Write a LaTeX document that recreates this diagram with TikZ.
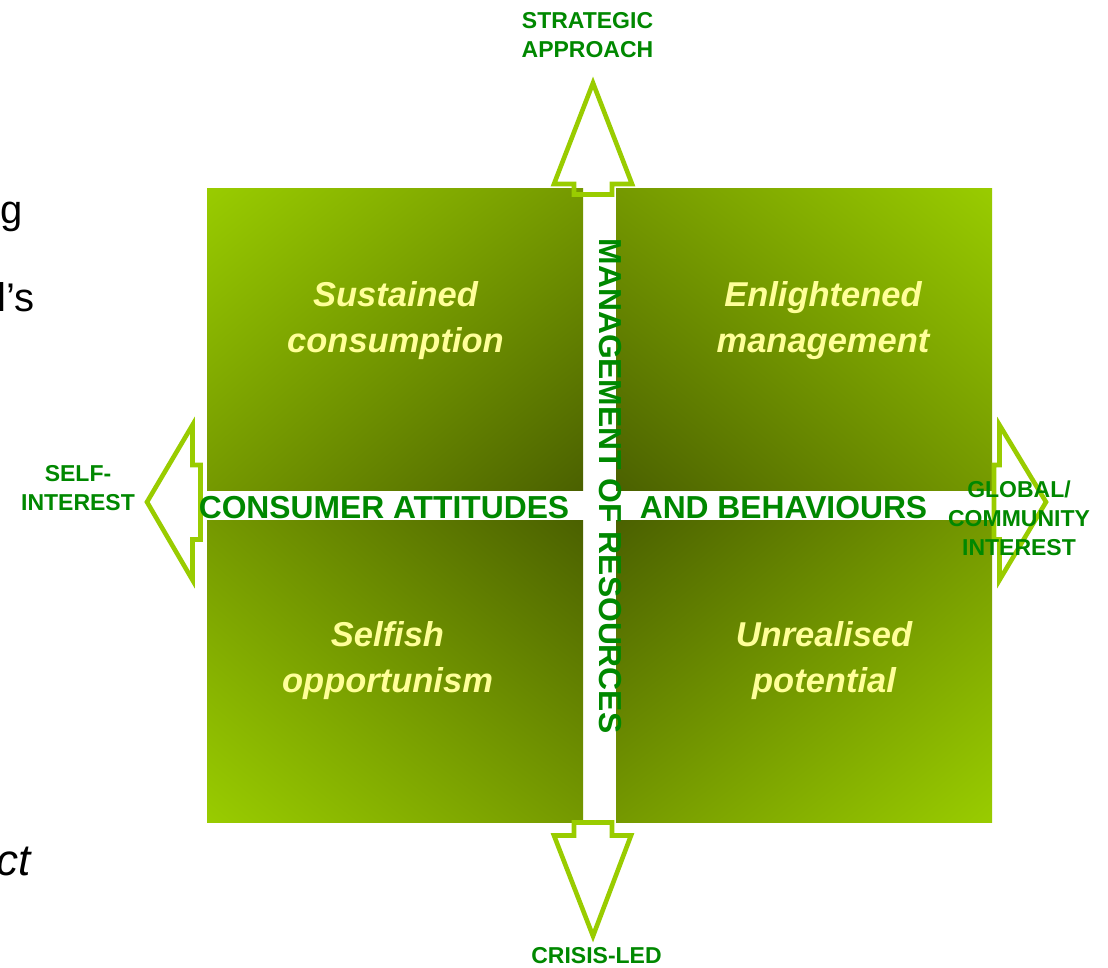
\documentclass[tikz,border=0pt]{standalone}
\usepackage{fontspec}
\usetikzlibrary{shadings}
\setmainfont{Liberation Sans}
\definecolor{arrowlime}{HTML}{99CC00}
\definecolor{qlight}{HTML}{99CC00}
\definecolor{qmid}{HTML}{759900}
\definecolor{qdark}{HTML}{4B6100}
\definecolor{lblgreen}{HTML}{008800}
\definecolor{qtext}{HTML}{FFFF99}
\newcommand{\mystack}[1]{\begin{tabular}[b]{@{}c@{}}#1\end{tabular}}
\begin{document}
\begin{tikzpicture}[x=1pt,y=-1pt,
  lbl/.style={font=\fontsize{23}{29}\selectfont\bfseries, text=lblgreen, inner sep=0pt, anchor=base},
  big/.style={font=\fontsize{31.8}{36}\selectfont\bfseries, text=lblgreen, inner sep=0pt, anchor=base},
  qtxt/.style={font=\fontsize{34.5}{46}\selectfont\bfseries\itshape, text=qtext, inner sep=0pt, anchor=base},
  frag/.style={font=\fontsize{40}{48}\selectfont, text=black, inner sep=0pt, anchor=base west},
  quad/.style={rectangle, inner sep=0pt, minimum width=376pt, minimum height=302pt, draw=none},
  arr/.style={draw=arrowlime, line width=4.6pt, line join=miter, miter limit=10}]
\fill[white] (0,0) rectangle (1108,967);
\useasboundingbox (0,0) rectangle (1108,967);
% quadrants
\node[quad, shade, upper left=qlight, upper right=qmid, lower left=qmid, lower right=qdark] (q1) at (395,339) {};
\node[quad, shade, upper left=qmid, upper right=qlight, lower left=qdark, lower right=qmid] (q2) at (804,339) {};
\node[quad, shade, upper left=qmid, upper right=qdark, lower left=qlight, lower right=qmid] (q3) at (395,671) {};
\node[quad, shade, upper left=qdark, upper right=qmid, lower left=qmid, lower right=qlight] (q4) at (804,671) {};
% arrows
\draw[arr] (574,194.5) -- (574,184) -- (554,184) -- (593,83) -- (632,184) -- (612,184) -- (612,194.5) -- cycle;
\draw[arr] (574,822.5) -- (612,822.5) -- (612,835.5) -- (631,835.5) -- (593,936) -- (554,835.5) -- (574,835.5) -- cycle;
\draw[arr] (200.5,465) -- (192.5,465) -- (192.5,425) -- (147,502) -- (192.5,580) -- (192.5,539.5) -- (200.5,539.5) -- cycle;
\draw[arr] (994,465) -- (999.5,465) -- (999.5,425) -- (1046,502) -- (999.5,580) -- (999.5,539.5) -- (994,539.5) -- cycle;
% axis labels
\node[lbl] (strat) at (587.5,57) {\mystack{STRATEGIC\\APPROACH}};
\node[lbl] (self) at (78,510) {\mystack{SELF-\\INTEREST}};
\node[lbl] (glob) at (1019,555) {\mystack{GLOBAL/\\COMMUNITY\\INTEREST}};
\node[lbl] (crisis) at (596.5,963.5) {CRISIS-LED};
\node[big] (cons) at (384,518) {CONSUMER ATTITUDES};
\node[big] (behav) at (783.5,518) {AND BEHAVIOURS};
\node[big, rotate=-90] (mgmt) at (599.3,486) {MANAGEMENT OF RESOURCES};
% quadrant texts
\node[qtxt] (t1) at (395.5,352) {\mystack{Sustained\\consumption}};
\node[qtxt] (t2) at (823,352) {\mystack{Enlightened\\management}};
\node[qtxt] (t3) at (387.5,692) {\mystack{Selfish\\opportunism}};
\node[qtxt] (t4) at (824,692) {\mystack{Unrealised\\potential}};
% cut-off text at left edge
\node[frag] (fg) at (0,223) {g};
\node[frag] (fl) at (-2.5,311) {l’s};
\node[frag, font=\fontsize{44}{48}\selectfont\itshape] (fct) at (-4,875) {ct};
\end{tikzpicture}
\end{document}
